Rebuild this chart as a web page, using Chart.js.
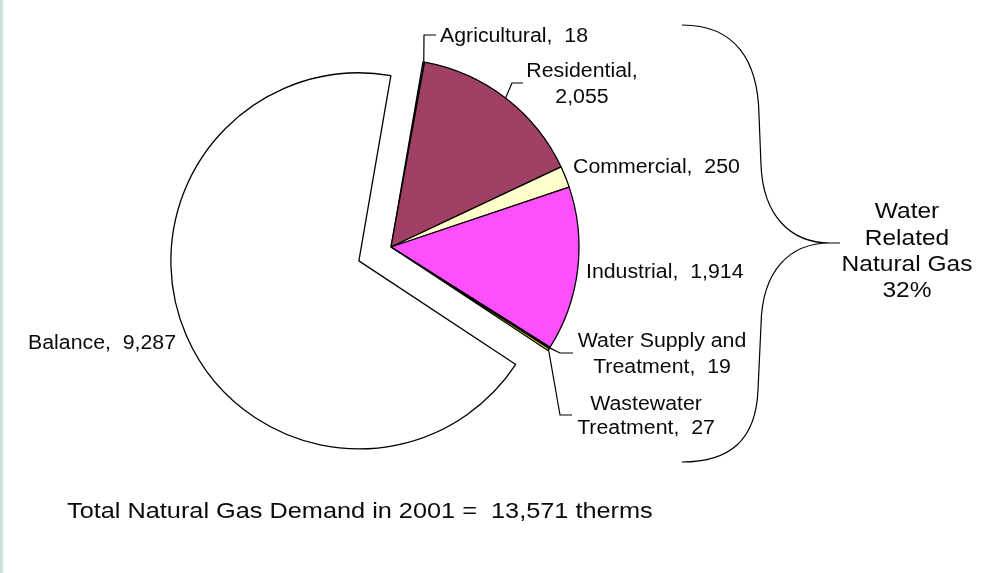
<!DOCTYPE html>
<html><head><meta charset="utf-8">
<script src="https://cdn.jsdelivr.net/npm/chart.js@4/dist/chart.umd.min.js"></script>
<style>
html,body{margin:0;padding:0;background:#fff;}
#wrap{position:relative;width:995px;height:573px;overflow:hidden;background:#fff;}
#strip{position:absolute;left:0;top:0;width:3px;height:573px;background:#cde3df;}
canvas{position:absolute;left:0;top:0;}
</style></head><body>
<div id="wrap"><canvas id="c" width="995" height="573"></canvas><div id="strip"></div></div>
<script>
// ---- data ----
const categories = ['Agricultural','Residential','Commercial','Industrial','Water Supply and Treatment','Wastewater Treatment','Balance'];
const values = [18, 2055, 250, 1914, 19, 27, 9287];
const sliceColors = ['#9999FF','#A04064','#FFFFCC','#FF4FFF','#0000FF','#FFFF00','#FFFFFF'];
const labelLines = [['Agricultural,  18'],['Residential,','2,055'],['Commercial,  250'],['Industrial,  1,914'],['Water Supply and','Treatment,  19'],['Wastewater','Treatment,  27'],['Balance,  9,287']];
const braceLines = ['Water','Related','Natural Gas','32%'];
const totalLabel = 'Total Natural Gas Demand in 2001 =  13,571 therms';
const explodedIndex = 6;

// ---- layout (annotation placement only) ----
const FONT = '"Liberation Sans", Arial, sans-serif';
const labelLayout = [
  {align:'left',   x:440, ys:[42],      leader:[[424,35],[436,35]]},
  {align:'center', x:582, ys:[77,103],  leader:[[512,83],[523,83]]},
  {align:'left',   x:573, ys:[173]},
  {align:'left',   x:586, ys:[278]},
  {align:'center', x:662, ys:[347,373], leader:[[560,353],[573,353]]},
  {align:'center', x:646, ys:[410,434], leader:[[560,415],[572,415]]},
  {align:'left',   x:28,  ys:[349]}
];
const explodeDist = 35;

function drawText(ctx, s, x, y, size, sx, align){
  ctx.save();
  ctx.font = size + 'px ' + FONT;
  ctx.textAlign = align;
  ctx.textBaseline = 'alphabetic';
  ctx.fillStyle = '#0a0a0a';
  ctx.translate(x, y);
  ctx.scale(sx, 1);
  ctx.fillText(s, 0, 0);
  ctx.restore();
}

const explodePlugin = {
  id:'explode',
  afterUpdate(chart){
    const el = chart.getDatasetMeta(0).data[explodedIndex];
    if (!el || el._exploded) return;
    const orig = el.draw;
    el.draw = function(ctx){
      const mid = (this.startAngle + this.endAngle) / 2;
      ctx.save();
      ctx.translate(Math.cos(mid) * explodeDist, Math.sin(mid) * explodeDist);
      orig.call(this, ctx);
      ctx.restore();
    };
    el._exploded = true;
  }
};

const annotatePlugin = {
  id:'annotate',
  afterDraw(chart){
    const ctx = chart.ctx;
    const arcs = chart.getDatasetMeta(0).data;
    ctx.save();
    ctx.strokeStyle = '#000';
    ctx.lineWidth = 1.2;
    labelLayout.forEach((L, i) => {
      if (L.leader){
        const a = arcs[i];
        const mid = (a.startAngle + a.endAngle) / 2;
        const sx = a.x + Math.cos(mid) * a.outerRadius;
        const sy = a.y + Math.sin(mid) * a.outerRadius;
        ctx.beginPath();
        ctx.moveTo(sx, sy);
        L.leader.forEach(p => ctx.lineTo(p[0], p[1]));
        ctx.stroke();
      }
      labelLines[i].forEach((t, k) => drawText(ctx, t, L.x, L.ys[k], 20, 1.065, L.align));
    });
    // brace
    ctx.beginPath();
    ctx.moveTo(682, 25);
    ctx.bezierCurveTo(735, 25, 758, 60, 759, 115);
    ctx.lineTo(761, 165);
    ctx.bezierCurveTo(763, 215, 790, 243, 830, 243);
    ctx.lineTo(840, 243);
    ctx.moveTo(830, 243);
    ctx.bezierCurveTo(790, 243, 762, 270, 761, 325);
    ctx.lineTo(758, 390);
    ctx.bezierCurveTo(756, 440, 730, 462, 682, 462);
    ctx.stroke();
    ctx.restore();
    const bys = [218, 244.5, 271, 297];
    braceLines.forEach((t, k) => drawText(ctx, t, 907, bys[k], 21.5, 1.14, 'center'));
    drawText(ctx, totalLabel, 67, 518, 22, 1.15, 'left');
  }
};

new Chart(document.getElementById('c'), {
  type:'pie',
  data:{
    labels: categories,
    datasets:[{
      data: values,
      backgroundColor: sliceColors,
      borderColor:'#000',
      borderWidth:1.3,
      radius:188
    }]
  },
  options:{
    responsive:false,
    animation:false,
    rotation:9.8,
    layout:{padding:{left:0, right:213, top:0, bottom:79}},
    plugins:{legend:{display:false}, tooltip:{enabled:false}}
  },
  plugins:[explodePlugin, annotatePlugin]
});
</script>
</body></html>
